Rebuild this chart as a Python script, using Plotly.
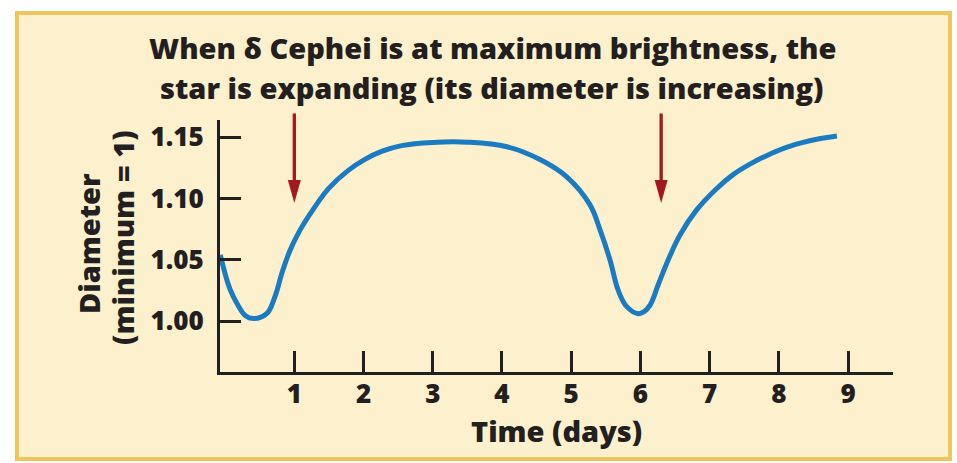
import plotly.graph_objects as go

# Pulsation of delta Cephei: stellar diameter (relative to minimum) over time
days = [-0.07, 0.07, 0.19, 0.29, 0.41, 0.60, 0.72, 0.82, 0.94, 1.08, 1.27,
        1.50, 1.78, 2.02, 2.26, 2.55, 3.0, 3.5, 4.07, 4.55, 4.94, 5.27, 5.42,
        5.56, 5.68, 5.80, 5.97, 6.05, 6.14, 6.26, 6.38, 6.57, 6.81, 7.10,
        7.34, 7.59, 7.83, 8.07, 8.31, 8.55, 8.84]
diameter = [1.054, 1.026, 1.0125, 1.0045, 1.002, 1.006, 1.020, 1.039, 1.058,
            1.074, 1.091, 1.1085, 1.123, 1.132, 1.1385, 1.1432, 1.1458, 1.146,
            1.1423, 1.1318, 1.1175, 1.095, 1.074, 1.050, 1.025, 1.012, 1.006,
            1.0075, 1.013, 1.030, 1.047, 1.070, 1.0905, 1.108, 1.1195, 1.1283,
            1.1352, 1.141, 1.1452, 1.1484, 1.1511]

# Moments of maximum brightness (arrows)
max_brightness_days = [1.0, 6.3]
arrow_tip = 1.0964
arrow_top = 1.1707

x_ticks = [1, 2, 3, 4, 5, 6, 7, 8, 9]
y_ticks = [1.00, 1.05, 1.10, 1.15]
y_tick_labels = ["1.00", "1.05", "1.10", "1.15"]

title_lines = ["When δ Cephei is at maximum brightness, the",
               "star is expanding (its diameter is increasing)"]
x_title = "Time (days)"
y_title = "Diameter"
y_subtitle = "(minimum = 1)"

W, H = 957, 463
ML, MR, MT, MB = 220, 64, 120, 91
PW, PH = W - ML - MR, H - MT - MB

INK = "#231F20"
BLUE = "#1B7BC2"
RED = "#A3191E"
FONT = "Open Sans"
WEIGHT = 800


def px(x):
    return (x - ML) / PW


def py(y):
    return (H - MB - y) / PH


fig = go.Figure()
fig.add_trace(go.Scatter(
    x=days, y=diameter, mode="lines",
    line=dict(color=BLUE, width=5, shape="spline", smoothing=1.1),
    hoverinfo="skip", showlegend=False,
))

# Background panel with golden border
fig.add_shape(type="rect", xref="paper", yref="paper",
              x0=px(17), x1=px(950), y0=py(13), y1=py(459),
              fillcolor="#FDF1CD", line=dict(color="#EEC65C", width=4),
              layer="below")

annotations = []
for d in max_brightness_days:
    # arrow stem
    annotations.append(dict(
        x=d, y=arrow_tip, ax=d, ay=arrow_top, xref="x", yref="y",
        axref="x", ayref="y", text="", showarrow=True, arrowhead=0,
        arrowwidth=3.3, arrowcolor=RED, standoff=14,
    ))
    # arrow head (pixel-sized triangle anchored at the tip)
    fig.add_shape(type="path", xref="x", yref="y",
                  xsizemode="pixel", ysizemode="pixel",
                  xanchor=d, yanchor=arrow_tip,
                  path="M-6.5,23 L6.5,23 L0,0 Z",
                  fillcolor=RED, line=dict(color=RED, width=0))

title_y = [48, 87]
for line, yy in zip(title_lines, title_y):
    annotations.append(dict(
        text=line, xref="paper", yref="paper", x=px(492), y=py(yy),
        xanchor="center", yanchor="middle", showarrow=False,
        font=dict(family=FONT, size=29, color=INK, weight=WEIGHT),
    ))

annotations.append(dict(
    text=y_title, xref="paper", yref="paper", x=px(88), y=py(244),
    xanchor="center", yanchor="middle", textangle=-90, showarrow=False,
    font=dict(family=FONT, size=29, color=INK, weight=WEIGHT),
))
annotations.append(dict(
    text=y_subtitle, xref="paper", yref="paper", x=px(122), y=py(238),
    xanchor="center", yanchor="middle", textangle=-90, showarrow=False,
    font=dict(family=FONT, size=29, color=INK, weight=WEIGHT),
))
annotations.append(dict(
    text=x_title, xref="paper", yref="paper", x=px(556), y=py(430),
    xanchor="center", yanchor="middle", showarrow=False,
    font=dict(family=FONT, size=29, color=INK, weight=WEIGHT),
))

fig.update_layout(
    width=W, height=H,
    margin=dict(l=ML, r=MR, t=MT, b=MB, pad=0),
    paper_bgcolor="white", plot_bgcolor="rgba(0,0,0,0)",
    annotations=annotations,
    showlegend=False,
)

fig.update_xaxes(
    range=[-0.074, 9.65], tickvals=x_ticks, ticks="inside", ticklen=21,
    tickwidth=2.5, tickcolor=INK, showline=True, linecolor=INK, linewidth=3,
    showgrid=False, zeroline=False, ticklabelstandoff=-3,
    tickfont=dict(family=FONT, size=26, color=INK, weight=WEIGHT),
)
fig.update_yaxes(
    range=[0.9584, 1.1641], tickvals=y_ticks, ticktext=y_tick_labels,
    ticks="inside", ticklen=21, tickwidth=2.5, tickcolor=INK,
    showline=True, linecolor=INK, linewidth=3, showgrid=False,
    zeroline=False, ticklabelstandoff=8,
    tickfont=dict(family=FONT, size=26, color=INK, weight=WEIGHT),
)

fig.write_html("out.html")
